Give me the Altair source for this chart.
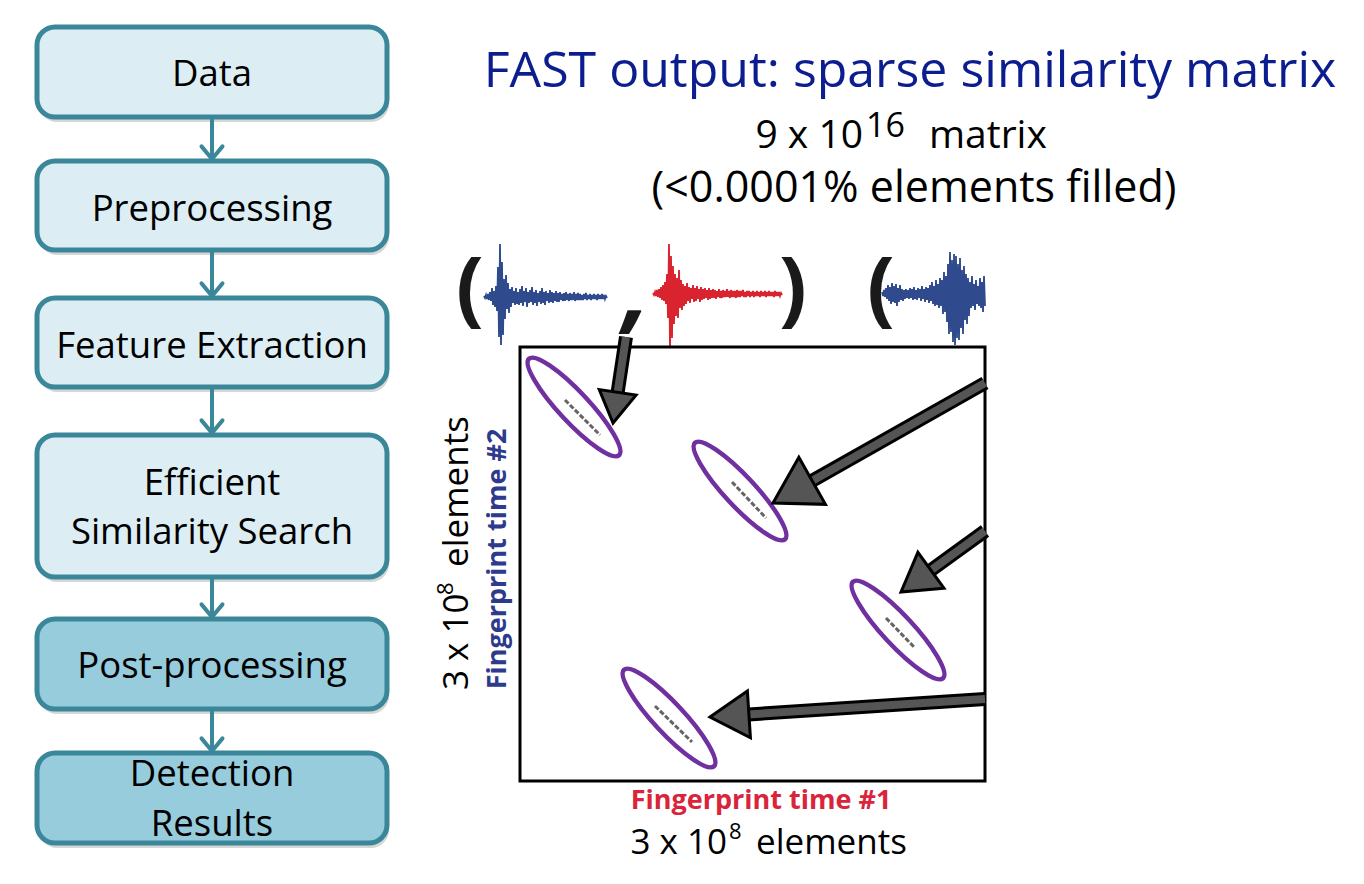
import math
import altair as alt
import pandas as pd

FONT = "Open Sans"
TEAL = "#3A8799"

# ---------------- flowchart ----------------
STEP_LINES = [["Data"], ["Preprocessing"], ["Feature Extraction"],
              ["Efficient", "Similarity Search"], ["Post-processing"],
              ["Detection", "Results"]]
STEP_TOP = [27, 161, 298, 435, 619, 753]
STEP_BOTTOM = [117, 250, 387, 577, 709, 843]
STEP_LINE_Y = [[75], [210], [347], [484, 533], [667], [775, 825]]
STEP_FILL = ["#DCEDF4", "#DCEDF4", "#DCEDF4", "#DCEDF4", "#96CCDC", "#96CCDC"]
BOX_LEFT, BOX_RIGHT, FLOW_X = 37, 387, 212

# ---------------- title texts ----------------
TITLE = "FAST output: sparse similarity matrix"
SUB_MAIN = ["9 x 10", "16", "matrix"]
SUB_LINE2 = "(<0.0001% elements filled)"
AXIS_PARTS = ["3 x 10", "8", "elements"]
FP1 = "Fingerprint time #1"
FP2 = "Fingerprint time #2"

# ---------------- waveforms (amplitude above / below baseline, px) ----------------
W1_X0, W1_BASE = 484, 297
W1_UP = [1, 2, 3, 5, 9, 6, 11, 30, 53, 35,
         18, 22, 14, 8, 10, 6, 9, 5, 8, 11,
         6, 9, 5, 7, 10, 5, 7, 4, 6, 9,
         5, 6, 4, 7, 5, 4, 6, 4, 5, 3,
         4, 5, 3, 4, 3, 5, 3, 4, 3, 2,
         3, 4, 2, 3, 2, 3, 2, 3, 2, 3,
         2, 1]
W1_DOWN = [1, 2, 3, 4, 8, 10, 14, 40, 48, 38,
           22, 12, 16, 10, 6, 8, 7, 8, 6, 9,
           5, 10, 6, 5, 8, 6, 9, 5, 7, 6,
           8, 4, 6, 5, 6, 4, 5, 5, 3, 4,
           4, 3, 4, 3, 3, 4, 3, 3, 3, 3,
           2, 3, 2, 3, 2, 2, 3, 2, 2, 2,
           2, 1]
W2_X0, W2_BASE = 653, 294
W2_UP = [1, 2, 4, 5, 7, 9, 12, 20, 50, 38,
         28, 20, 16, 24, 14, 10, 8, 11, 7, 6,
         9, 6, 8, 5, 7, 5, 6, 4, 6, 4,
         5, 4, 3, 5, 3, 4, 3, 5, 3, 4,
         3, 3, 4, 3, 3, 4, 2, 3, 3, 2,
         3, 2, 3, 2, 3, 2, 3, 2, 3, 2,
         2, 3, 2, 2, 1]
W2_DOWN = [1, 2, 3, 4, 6, 7, 10, 24, 54, 44,
           30, 22, 24, 14, 16, 12, 10, 7, 9, 5,
           8, 7, 5, 8, 6, 5, 4, 6, 5, 4,
           4, 5, 3, 4, 4, 3, 3, 3, 4, 3,
           3, 4, 3, 3, 2, 3, 3, 2, 3, 2,
           3, 2, 2, 3, 2, 2, 3, 2, 2, 2,
           3, 2, 2, 2, 1]
W3_X0, W3_BASE = 882, 294
W3_UP = [2, 4, 6, 9, 7, 11, 8, 10, 6, 9,
         5, 4, 5, 4, 6, 5, 7, 4, 6, 5,
         8, 5, 7, 6, 9, 12, 8, 14, 10, 16,
         14, 22, 18, 30, 42, 34, 40, 38, 30, 36,
         24, 28, 20, 16, 12, 18, 10, 14, 8, 16,
         12, 18]
W3_DOWN = [2, 3, 5, 7, 10, 8, 9, 12, 8, 6,
           7, 5, 4, 5, 4, 6, 5, 6, 4, 7,
           5, 8, 6, 9, 7, 10, 12, 11, 14, 12,
           20, 18, 28, 40, 38, 48, 51, 44, 46, 34,
           40, 26, 30, 22, 14, 12, 16, 10, 12, 14,
           18, 12]

PARENS = ["(", ")", "("]
PAREN_X = [470, 793, 881]

# ---------------- matrix ----------------
MATRIX = (520, 347, 985, 781)
ELLIPSE_X = [574, 740, 898, 669]
ELLIPSE_Y = [407, 491, 630, 718]
HIT_X0 = [565, 732, 886, 655]
HIT_Y0 = [400, 482, 618, 706]
HIT_X1 = [600, 766, 915, 692]
HIT_Y1 = [435, 518, 648, 742]

ARROW_TAIL_X = [626, 985, 985, 985]
ARROW_TAIL_Y = [337, 383, 531, 699]
ARROW_TIP_X = [613, 773, 901, 710]
ARROW_TIP_Y = [423, 503, 592, 717]
ARROW_HEAD = [31, 45, 37, 39]


def X(f):
    return alt.X(f, type="quantitative", axis=None,
                 scale=alt.Scale(domain=[8, 1356], nice=False, zero=False))


def Y(f):
    return alt.Y(f, type="quantitative", axis=None,
                 scale=alt.Scale(domain=[8, 876], nice=False, zero=False, reverse=True))


def txt(rows, size, color, weight="normal", angle=0, align="center", baseline="middle", style="normal"):
    df = pd.DataFrame(rows, columns=["t", "x", "y"])
    return alt.Chart(df).mark_text(fontSize=size, color=color, fontWeight=weight, angle=angle,
                                   align=align, baseline=baseline, font=FONT, fontStyle=style).encode(
        x=X("x"), y=Y("y"), text="t:N")


layers = []

# flow boxes
boxes = pd.DataFrame({"x0": BOX_LEFT, "x1": BOX_RIGHT, "y0": STEP_TOP, "y1": STEP_BOTTOM,
                      "fill": STEP_FILL})
shadow = boxes.assign(x0=boxes.x0 + 2, x1=boxes.x1 + 2, y0=boxes.y0 + 5, y1=boxes.y1 + 5)
layers.append(alt.Chart(shadow).mark_rect(cornerRadius=18, color="#8a8a8a", opacity=0.35).encode(
    x=X("x0"), x2="x1", y=Y("y0"), y2="y1"))
layers.append(alt.Chart(boxes).mark_rect(cornerRadius=18, stroke=TEAL, strokeWidth=5).encode(
    x=X("x0"), x2="x1", y=Y("y0"), y2="y1", fill=alt.Fill("fill:N", scale=None)))

conn = pd.DataFrame({"x": FLOW_X, "y0": [b + 2 for b in STEP_BOTTOM[:-1]],
                     "y1": [t - 2 for t in STEP_TOP[1:]]})
layers.append(alt.Chart(conn).mark_rule(color=TEAL, strokeWidth=4).encode(
    x=X("x"), y=Y("y0"), y2="y1"))
layers.append(alt.Chart(conn).mark_point(shape="M -1 -1.2 L 0 0 L 1 -1.2", size=441, filled=False,
                                         stroke=TEAL, strokeWidth=4, opacity=1,
                                         strokeCap="round", strokeJoin="round").encode(
    x=X("x"), y=Y("y1")))

step_rows = []
for lines, ys in zip(STEP_LINES, STEP_LINE_Y):
    for s, yy in zip(lines, ys):
        step_rows.append((s, FLOW_X, yy))
layers.append(txt(step_rows, 36.5, "#000000"))

# title block
layers.append(txt([(TITLE, 910, 72)], 50, "#0C1D8F"))
layers.append(txt([(SUB_MAIN[0], 863, 136)], 39, "#000000", align="right"))
layers.append(txt([(SUB_MAIN[1], 866, 127)], 34, "#000000", align="left"))
layers.append(txt([(SUB_MAIN[2], 929, 136)], 39, "#000000", align="left"))
layers.append(txt([(SUB_LINE2, 914, 189)], 43, "#000000"))

# waveforms drawn as zig-zag traces between the read upper and lower excursions
for x0, base, up, down, col in [(W1_X0, W1_BASE, W1_UP, W1_DOWN, "#2F4B8E"),
                                (W2_X0, W2_BASE, W2_UP, W2_DOWN, "#D9232F"),
                                (W3_X0, W3_BASE, W3_UP, W3_DOWN, "#2F4B8E")]:
    pts = []
    for i, (u, d) in enumerate(zip(up, down)):
        pts.append({"o": 2 * i, "x": x0 + 2 * i, "y": base - u})
        pts.append({"o": 2 * i + 1, "x": x0 + 2 * i + 1, "y": base + d})
    wdf = pd.DataFrame(pts)
    layers.append(alt.Chart(wdf).mark_line(color=col, strokeWidth=1.8, interpolate="linear").encode(
        x=X("x"), y=Y("y"), order="o:Q"))

layers.append(txt([(p, px, 291) for p, px in zip(PARENS, PAREN_X)], 82, "#1A1A1A", weight="bold"))
layers.append(txt([(",", 637, 321)], 96, "#1A1A1A", weight="bold", baseline="alphabetic", style="italic"))

# matrix frame
mdf = pd.DataFrame({"x0": [MATRIX[0]], "y0": [MATRIX[1]], "x1": [MATRIX[2]], "y1": [MATRIX[3]]})
layers.append(alt.Chart(mdf).mark_rect(fill="white", fillOpacity=0, stroke="black", strokeWidth=3).encode(
    x=X("x0"), x2="x1", y=Y("y0"), y2="y1"))

# sparse hits
hits = pd.DataFrame({"x0": HIT_X0, "y0": HIT_Y0, "x1": HIT_X1, "y1": HIT_Y1})
layers.append(alt.Chart(hits).mark_rule(color="#4a4a4a", strokeWidth=3, strokeDash=[5, 2], opacity=0.85).encode(
    x=X("x0"), y=Y("y0"), x2="x1", y2="y1"))

# ellipses
b = 15 / 66
k = 0.5523
ell = (f"M 1 0 C 1 {k*b:.4f} {k:.4f} {b:.4f} 0 {b:.4f} C {-k:.4f} {b:.4f} -1 {k*b:.4f} -1 0 "
       f"C -1 {-k*b:.4f} {-k:.4f} {-b:.4f} 0 {-b:.4f} C {k:.4f} {-b:.4f} 1 {-k*b:.4f} 1 0 Z")
edf = pd.DataFrame({"x": ELLIPSE_X, "y": ELLIPSE_Y})
layers.append(alt.Chart(edf).mark_point(shape=ell, size=(2 * 66) ** 2, angle=47, filled=False,
                                        stroke="#7030A0", strokeWidth=4.5, opacity=1).encode(
    x=X("x"), y=Y("y")))

# arrows
rows = []
for tx, ty, px, py, L in zip(ARROW_TAIL_X, ARROW_TAIL_Y, ARROW_TIP_X, ARROW_TIP_Y, ARROW_HEAD):
    dx, dy = px - tx, py - ty
    n = math.hypot(dx, dy)
    ux, uy = dx / n, dy / n
    r = L / 1.5
    rows.append({"tx": tx, "ty": ty,
                 "sx": px - 0.6 * L * ux, "sy": py - 0.6 * L * uy,
                 "cx": px - r * ux, "cy": py - r * uy,
                 "size": (2 * r) ** 2,
                 "ang": math.degrees(math.atan2(ux, -uy)) % 360})
adf = pd.DataFrame(rows)
layers.append(alt.Chart(adf).mark_rule(color="black", strokeWidth=14).encode(
    x=X("tx"), y=Y("ty"), x2="sx", y2="sy"))
layers.append(alt.Chart(adf).mark_rule(color="#555555", strokeWidth=8).encode(
    x=X("tx"), y=Y("ty"), x2="sx", y2="sy"))
layers.append(alt.Chart(adf).mark_point(shape="M 0 -1 L 0.9 0.5 L -0.9 0.5 Z", filled=True,
                                        fill="#555555", stroke="black", strokeWidth=3, opacity=1,
                                        strokeJoin="miter").encode(
    x=X("cx"), y=Y("cy"), size=alt.Size("size:Q", scale=None), angle=alt.Angle("ang:Q", scale=None)))

# axis labels
layers.append(txt([(FP1, 761, 801)], 27, "#D8253C", weight="bold"))
layers.append(txt([(FP2, 498, 559)], 27, "#2E3A8C", weight="bold", angle=270))
layers.append(txt([(AXIS_PARTS[0], 727, 843)], 35, "#000000", align="right"))
layers.append(txt([(AXIS_PARTS[1], 729, 832)], 22, "#000000", align="left"))
layers.append(txt([(AXIS_PARTS[2], 756, 843)], 35, "#000000", align="left"))
layers.append(txt([(AXIS_PARTS[0], 457, 690)], 35, "#000000", angle=270, align="left"))
layers.append(txt([(AXIS_PARTS[1], 446, 595)], 22, "#000000", angle=270, align="left"))
layers.append(txt([(AXIS_PARTS[2], 457, 567)], 35, "#000000", angle=270, align="left"))

chart = alt.layer(*layers).properties(
    width=1348, height=868, padding=0,
    autosize=alt.AutoSizeParams(type="fit", contains="padding"),
    background="white",
).configure_view(stroke=None)

chart.save("out.html", embed_options={"renderer": "svg", "actions": False})
